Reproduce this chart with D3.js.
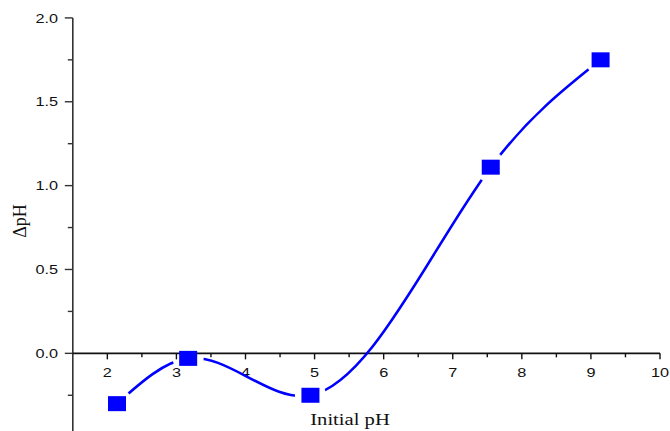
<!DOCTYPE html>
<html>
<head>
<meta charset="utf-8">
<script src="https://cdn.jsdelivr.net/npm/d3@7"></script>
<style>
  html, body { margin: 0; padding: 0; background: #fff; }
  svg { display: block; }
</style>
</head>
<body>
<svg id="chart" width="670" height="431"></svg>
<script>
// Measured pH change against the starting pH of the solution
const initialPH = [2.14, 3.17, 4.94, 7.55, 9.14];
const deltaPH = [-0.30, -0.03, -0.25, 1.11, 1.75];

const xTicks = [2, 3, 4, 5, 6, 7, 8, 9, 10];
const yTicks = [0.0, 0.5, 1.0, 1.5, 2.0];
const xLabel = "Initial pH";
const yLabel = "ΔpH";

const svg = d3.select("#chart");
const stretch = 1.25; // glyphs are drawn a little wider than tall

const x = d3.scaleLinear().domain([1.5, 10]).range([72.8, 660]);
const y = d3.scaleLinear().domain([-0.5, 2.0]).range([437.2, 17.9]);

const sans = "'Liberation Sans', Arial, sans-serif";
const serif = "'Liberation Serif', 'Times New Roman', serif";

// Curve factory: natural cubic spline y(x), emitted as exact Bezier segments
function curveSplineX(context) {
  let xs, ys;
  return {
    areaStart() {}, areaEnd() {},
    lineStart() { xs = []; ys = []; },
    point(px, py) { xs.push(+px); ys.push(+py); },
    lineEnd() {
      const n = xs.length;
      if (!n) return;
      context.moveTo(xs[0], ys[0]);
      if (n === 1) return;
      const h = d3.range(n - 1).map(i => xs[i + 1] - xs[i]);
      // second derivatives (natural end conditions) via Thomas algorithm
      const M = new Array(n).fill(0);
      if (n > 2) {
        const a = [], b = [], c = [], d = [];
        for (let i = 1; i < n - 1; i++) {
          a.push(h[i - 1]); b.push(2 * (h[i - 1] + h[i])); c.push(h[i]);
          d.push(6 * ((ys[i + 1] - ys[i]) / h[i] - (ys[i] - ys[i - 1]) / h[i - 1]));
        }
        const m = b.length;
        for (let i = 1; i < m; i++) {
          const w = a[i] / b[i - 1];
          b[i] -= w * c[i - 1]; d[i] -= w * d[i - 1];
        }
        const sol = new Array(m);
        sol[m - 1] = d[m - 1] / b[m - 1];
        for (let i = m - 2; i >= 0; i--) sol[i] = (d[i] - c[i] * sol[i + 1]) / b[i];
        for (let i = 0; i < m; i++) M[i + 1] = sol[i];
      }
      for (let i = 0; i < n - 1; i++) {
        const s = (ys[i + 1] - ys[i]) / h[i];
        const m0 = s - h[i] * (2 * M[i] + M[i + 1]) / 6;
        const m1 = s + h[i] * (M[i] + 2 * M[i + 1]) / 6;
        context.bezierCurveTo(
          xs[i] + h[i] / 3, ys[i] + m0 * h[i] / 3,
          xs[i + 1] - h[i] / 3, ys[i + 1] - m1 * h[i] / 3,
          xs[i + 1], ys[i + 1]);
      }
    }
  };
}

// ---- y axis (left spine, ticks outward) ----
const yAxisG = svg.append("g");
yAxisG.append("line")
  .attr("x1", x(1.5)).attr("x2", x(1.5))
  .attr("y1", y(2.0)).attr("y2", y(-0.5))
  .attr("stroke", "#333").attr("stroke-width", 1.6);

const yMinor = d3.range(-0.5, 2.001, 0.25);
yAxisG.selectAll("line.ytick").data(yMinor).join("line")
  .attr("class", "ytick")
  .attr("x1", d => x(1.5) - (Math.abs(d * 2 - Math.round(d * 2)) < 1e-6 ? 8 : 5))
  .attr("x2", x(1.5))
  .attr("y1", d => y(d)).attr("y2", d => y(d))
  .attr("stroke", "#333").attr("stroke-width", 1.4);

yAxisG.selectAll("text").data(yTicks).join("text")
  .attr("transform", d => `translate(58,${y(d) + 4.6}) scale(${stretch},1)`)
  .attr("text-anchor", "end")
  .attr("font-family", sans).attr("font-size", 13).attr("fill", "#111")
  .text(d => d3.format(".1f")(d));

// ---- x axis (through zero, ticks downward) ----
const xAxisG = svg.append("g");
xAxisG.append("line")
  .attr("x1", x(1.5)).attr("x2", x(10))
  .attr("y1", y(0)).attr("y2", y(0))
  .attr("stroke", "#111").attr("stroke-width", 1.6);

const xMinor = d3.range(2, 10.001, 0.5);
xAxisG.selectAll("line.xtick").data(xMinor).join("line")
  .attr("class", "xtick")
  .attr("x1", d => x(d)).attr("x2", d => x(d))
  .attr("y1", y(0))
  .attr("y2", d => y(0) + (Number.isInteger(d) ? 6 : 4))
  .attr("stroke", "#111").attr("stroke-width", 1.4);

xAxisG.selectAll("text").data(xTicks).join("text")
  .attr("transform", d => `translate(${x(d)},${y(0) + 23.5}) scale(${stretch},1)`)
  .attr("text-anchor", "middle")
  .attr("font-family", sans).attr("font-size", 13).attr("fill", "#111")
  .text(d => d);

// ---- axis titles ----
svg.append("text")
  .attr("transform", `translate(350,425) scale(${stretch},1)`)
  .attr("text-anchor", "middle")
  .attr("font-family", serif).attr("font-size", 16.5).attr("fill", "#111")
  .text(xLabel);

svg.append("text")
  .attr("transform", "translate(26,221) rotate(-90)")
  .attr("text-anchor", "middle")
  .attr("font-family", serif).attr("font-size", 18).attr("fill", "#111")
  .text(yLabel);

// ---- smoothed connecting line, broken around each marker ----
const pts = initialPH.map((v, i) => [x(v), y(deltaPH[i])]);

const defs = svg.append("defs");
const mask = defs.append("mask").attr("id", "gapMask")
  .attr("maskUnits", "userSpaceOnUse")
  .attr("x", 0).attr("y", 0).attr("width", 670).attr("height", 431);
mask.append("rect").attr("width", 670).attr("height", 431).attr("fill", "#fff");
mask.selectAll("circle").data(pts).join("circle")
  .attr("cx", d => d[0]).attr("cy", d => d[1]).attr("r", 15.5)
  .attr("fill", "#000");

const line = d3.line().curve(curveSplineX);
svg.append("path")
  .attr("d", line(pts))
  .attr("fill", "none")
  .attr("stroke", "#0000ff")
  .attr("stroke-width", 2.6)
  .attr("mask", "url(#gapMask)");

// ---- square markers ----
const mw = 18, mh = 15;
svg.selectAll("rect.marker").data(pts).join("rect")
  .attr("class", "marker")
  .attr("x", d => d[0] - mw / 2).attr("y", d => d[1] - mh / 2)
  .attr("width", mw).attr("height", mh)
  .attr("fill", "#0000ff");
</script>
</body>
</html>
